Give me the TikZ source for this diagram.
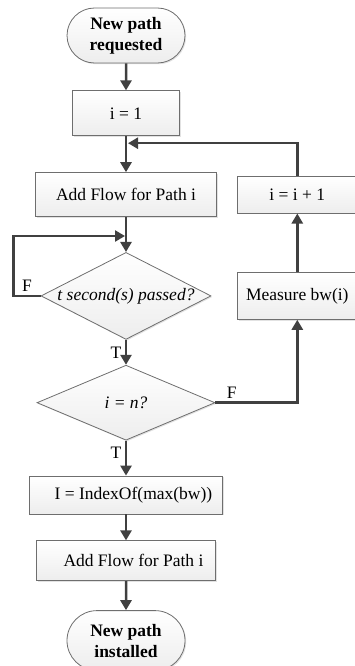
\documentclass[tikz,border=0pt]{standalone}
\usepackage{fontspec}
\setmainfont{Liberation Serif}
\usetikzlibrary{shapes.geometric,shapes.misc,positioning,arrows.meta,shadows}

\definecolor{linegray}{HTML}{404040}
\definecolor{edgegray}{HTML}{6E6E6E}

\begin{document}
\begin{tikzpicture}[
    x=1pt, y=1pt,
    every node/.style={font=\fontsize{17.5}{21}\selectfont},
    boxbase/.style={draw=edgegray, line width=0.8pt, top color=white, bottom color=gray!14,
        drop shadow={shadow xshift=1.2pt, shadow yshift=-1.2pt, fill=gray!45, opacity=0.5}},
    process/.style={boxbase, rectangle, inner sep=2pt},
    terminal/.style={boxbase, rounded rectangle, align=center, font=\fontsize{17.5}{21}\selectfont\bfseries,
        minimum width=120pt, inner sep=1pt},
    decision/.style={boxbase, diamond, inner sep=0pt},
    flowline/.style={draw=linegray, line width=2.5pt, -{Triangle[length=10pt,width=11pt]}},
]

\useasboundingbox (0,0) rectangle (354,-666);

% Main column
\node[terminal, minimum height=55pt] (start) at (126,-35.5) {New path\\requested};
\node[process, below=27pt of start, minimum width=107pt, minimum height=45pt] (init) {i = 1};
\node[process, below=36pt of init, minimum width=181pt, minimum height=44pt] (add1) {Add Flow for Path i};
\node[decision, below=35pt of add1, minimum width=170pt, minimum height=87pt] (wait)
    {\makebox[0pt]{\itshape t second(s) passed?}};
\node[decision, below=25pt of wait, minimum width=178pt, minimum height=75pt] (check)
    {\makebox[0pt]{\itshape i = n?}};
\node[process, below=35pt of check, minimum width=193pt, minimum height=38pt] (select)
    {\hspace*{15pt}I = IndexOf(max(bw))};
\node[process, below=26pt of select, minimum width=179pt, minimum height=40pt] (add2)
    {\hspace*{15pt}Add Flow for Path i};
\node[terminal, below=29pt of add2, minimum height=60pt] (end) {New path\\installed};

% Right column
\node[process, right=20.5pt of add1, minimum width=119pt, minimum height=37pt] (incr) {i = i + 1};
\node[process, below=58.5pt of incr, minimum width=119pt, minimum height=47pt] (measure) {Measure bw(i)};

% Helper points
\coordinate (merge) at ([yshift=-7pt]init.south);
\coordinate (loop) at ([yshift=16pt]wait.north);

% Connectors
\draw[flowline] (start) -- (init);
\draw[flowline] (init) -- (add1);
\draw[flowline] (add1) -- (wait);
\draw[flowline] (wait.west) -- node[above]{F} ++(-27pt,0) |- ([xshift=-1pt]loop);
\draw[flowline] (wait) -- node[left]{T} (check);
\draw[flowline] (check.east) -| node[above, pos=0.1]{F} (measure.south);
\draw[flowline] (measure) -- (incr);
\draw[flowline] (incr.north) |- ([xshift=2pt]merge);
\draw[flowline] (check) -- node[left, pos=0.35]{T} (select);
\draw[flowline] (select) -- (add2);
\draw[flowline] (add2) -- (end);

\end{tikzpicture}
\end{document}
